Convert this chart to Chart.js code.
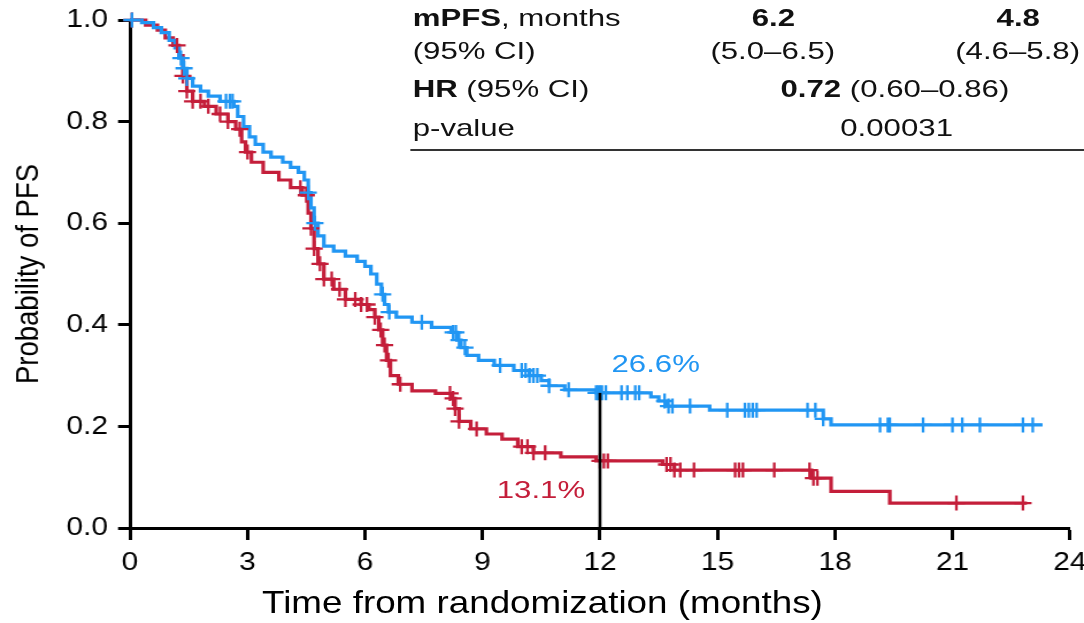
<!DOCTYPE html>
<html lang="en">
<head>
<meta charset="UTF-8">
<title>Probability of PFS</title>
<script src="https://cdn.jsdelivr.net/npm/chart.js"></script>
<style>
  body { margin: 0; background: #fff; overflow: hidden; }
  /* the source figure is stretched sideways, so the whole drawing is too */
  #wrap { position: absolute; left: 0; top: 0; width: 943px; height: 623px;
          transform: scaleX(1.1495); transform-origin: 0 0;
          font-family: "Liberation Sans", Arial, sans-serif; }
  #box { position: absolute; left: 0; top: 0; width: 943px; height: 623px; }
  .t { position: absolute; font-size: 24px; line-height: 24px; white-space: nowrap;
       color: #111; transform: scaleX(1.13); transform-origin: 0 0; z-index: 2; }
  .r { transform-origin: 100% 0; }
  #xtitle { position: absolute; left: 228px; top: 586px; font-size: 32px; line-height: 32px;
            white-space: nowrap; color: #000; z-index: 2; }
  #rule { position: absolute; left: 356.7px; top: 148.5px; width: 586.3px; height: 0;
          border-top: 2.5px solid #333; }
</style>
</head>
<body>
<div id="wrap">
  <div id="box"><canvas id="chart"></canvas></div>

  <div class="t" style="left:359.3px;top:5.7px"><b>mPFS</b>, months</div>
  <div class="t" style="left:359.3px;top:38.7px">(95% CI)</div>
  <div class="t" style="left:359.3px;top:76.7px"><b>HR</b> (95% CI)</div>
  <div class="t" style="left:359.3px;top:115.7px">p-value</div>
  <div class="t" style="left:654.2px;top:5.7px"><b>6.2</b></div>
  <div class="t" style="left:867.3px;top:5.7px"><b>4.8</b></div>
  <div class="t" style="left:617.7px;top:38.7px">(5.0–6.5)</div>
  <div class="t" style="left:830.8px;top:38.7px">(4.6–5.8)</div>
  <div class="t" style="left:678.6px;top:76.7px"><b>0.72</b> (0.60–0.86)</div>
  <div class="t" style="left:730.8px;top:115.7px">0.00031</div>
  <div id="rule"></div>

  <div class="t" id="blueLab"></div>
  <div class="t r" id="redLab"></div>
  <div id="xtitle">Time from randomization (months)</div>
</div>

<script>
// time (months) / survival after each drop
var blueT = [0, 0.3, 0.6, 0.8, 1.0, 1.15, 1.25, 1.35, 1.45, 1.6, 1.8, 2.0, 2.3, 2.65, 2.75, 2.9, 3.05, 3.2, 3.4, 3.6, 3.9, 4.1, 4.3, 4.45, 4.55, 4.62, 4.7, 4.8, 4.95, 5.2, 5.5, 5.8, 6.0, 6.15, 6.3, 6.42, 6.5, 6.6, 6.8, 7.2, 7.7, 8.2, 8.35, 8.45, 8.6, 8.9, 9.3, 9.8, 10.2, 10.5, 10.7, 11.1, 11.9, 13.3, 13.5, 13.7, 14.8, 17.7, 17.9, 23.3];
var blueS = [1.0, 0.995, 0.985, 0.975, 0.96, 0.945, 0.925, 0.905, 0.885, 0.87, 0.86, 0.85, 0.84, 0.83, 0.81, 0.79, 0.77, 0.755, 0.74, 0.73, 0.72, 0.71, 0.70, 0.685, 0.66, 0.63, 0.60, 0.575, 0.555, 0.545, 0.535, 0.525, 0.515, 0.50, 0.48, 0.46, 0.44, 0.425, 0.415, 0.405, 0.395, 0.385, 0.37, 0.355, 0.34, 0.33, 0.32, 0.31, 0.30, 0.29, 0.28, 0.272, 0.266, 0.258, 0.25, 0.24, 0.232, 0.215, 0.203, 0.203];

var redT = [0, 0.4, 0.7, 0.9, 1.1, 1.25, 1.35, 1.45, 1.6, 1.9, 2.2, 2.5, 2.7, 2.85, 2.95, 3.1, 3.4, 3.8, 4.1, 4.4, 4.55, 4.62, 4.7, 4.8, 4.95, 5.2, 5.5, 5.9, 6.1, 6.25, 6.35, 6.45, 6.55, 6.65, 6.85, 7.2, 7.8, 8.2, 8.3, 8.4, 8.7, 9.1, 9.5, 9.9, 10.3, 11.0, 11.9, 13.6, 13.9, 17.4, 17.9, 19.4, 22.9];
var redS = [1.0, 0.99, 0.98, 0.965, 0.95, 0.93, 0.89, 0.86, 0.84, 0.83, 0.815, 0.80, 0.785, 0.76, 0.74, 0.72, 0.70, 0.685, 0.67, 0.655, 0.62, 0.59, 0.55, 0.52, 0.49, 0.47, 0.45, 0.44, 0.43, 0.415, 0.39, 0.36, 0.33, 0.30, 0.283, 0.27, 0.265, 0.255, 0.235, 0.21, 0.195, 0.185, 0.175, 0.16, 0.148, 0.14, 0.132, 0.125, 0.114, 0.098, 0.072, 0.049, 0.049];

// censored patients (months)
var blueCensor = [0.05, 1.3, 1.38, 1.45, 2.45, 2.55, 2.62, 4.55, 4.72, 6.45, 6.62, 7.45, 8.25, 8.32, 8.4, 8.55, 9.45, 10.0, 10.1, 10.2, 10.3, 10.4, 10.7, 11.2, 11.9, 11.95, 12.0, 12.05, 12.15, 12.55, 12.7, 12.9, 13.0, 13.65, 13.75, 13.85, 14.3, 15.25, 15.7, 15.8, 15.9, 16.0, 17.3, 17.5, 17.7, 19.15, 19.35, 19.4, 20.25, 21.0, 21.25, 21.7, 22.8, 23.05];
var redCensor = [0.05, 1.2, 1.35, 1.45, 1.6, 1.8, 2.0, 2.3, 2.5, 2.8, 3.0, 4.35, 4.5, 4.62, 4.7, 4.85, 4.95, 5.15, 5.35, 5.5, 5.75, 5.9, 6.05, 6.25, 6.4, 6.5, 6.6, 6.9, 8.17, 8.25, 8.3, 8.4, 8.85, 10.0, 10.15, 10.3, 10.6, 12.0, 12.1, 12.2, 13.7, 13.8, 13.9, 14.05, 14.4, 15.45, 15.55, 15.65, 16.45, 17.35, 17.45, 17.55, 21.1, 22.8];

var landmarkMonth = 12;
var landmarkPct = ['26.6%', '13.1%'];

var blue = '#2196F3';
var red = '#C41E3A';

function survAt(T, S, t) {
    var v = S[0];
    for (var i = 0; i < T.length; i++) {
        if (T[i] <= t) v = S[i];
    }
    return v;
}
function curve(T, S) {
    return T.map(function(t, i) { return {x: t, y: S[i]}; });
}
function marks(C, T, S) {
    return C.map(function(t) { return {x: t, y: survAt(T, S, t)}; });
}

document.getElementById('blueLab').textContent = landmarkPct[0];
document.getElementById('blueLab').style.color = blue;
document.getElementById('redLab').textContent = landmarkPct[1];
document.getElementById('redLab').style.color = red;

// place the 12-month labels next to the landmark line
var landmarkLabels = {
    id: 'landmarkLabels',
    afterRender: function(chart) {
        var px = chart.scales.x.getPixelForValue(landmarkMonth);
        var yb = chart.scales.y.getPixelForValue(survAt(blueT, blueS, landmarkMonth));
        var yr = chart.scales.y.getPixelForValue(survAt(redT, redS, landmarkMonth));
        var b = document.getElementById('blueLab');
        var r = document.getElementById('redLab');
        b.style.left = (px + 10.5) + 'px';
        b.style.top = (yb - 41) + 'px';
        r.style.right = (943 - px + 13) + 'px';
        r.style.top = (yr + 17.5) + 'px';
    }
};

var ctx = document.getElementById('chart').getContext('2d');
var chart = new Chart(ctx, {
    type: 'line',
    data: {
        datasets: [
            {
                label: 'landmark',
                data: [{x: landmarkMonth, y: 0}, {x: landmarkMonth, y: survAt(blueT, blueS, landmarkMonth)}],
                borderColor: '#000',
                borderWidth: 2.6,
                pointRadius: 0
            },
            {
                label: 'censor blue',
                data: marks(blueCensor, blueT, blueS),
                showLine: false,
                pointStyle: 'cross',
                pointRadius: 7.5,
                borderColor: blue,
                borderWidth: 2.3
            },
            {
                label: 'censor red',
                data: marks(redCensor, redT, redS),
                showLine: false,
                pointStyle: 'cross',
                pointRadius: 7.5,
                borderColor: red,
                borderWidth: 2.3
            },
            {
                label: 'blue arm',
                data: curve(blueT, blueS),
                stepped: true,
                borderColor: blue,
                borderWidth: 3.2,
                pointRadius: 0
            },
            {
                label: 'red arm',
                data: curve(redT, redS),
                stepped: true,
                borderColor: red,
                borderWidth: 3.2,
                pointRadius: 0
            }
        ]
    },
    options: {
        responsive: true,
        maintainAspectRatio: false,
        animation: false,
        events: [],
        clip: false,
        layout: { padding: { top: 20, right: 0, bottom: 0, left: 0 } },
        plugins: { legend: { display: false }, tooltip: { enabled: false } },
        scales: {
            x: {
                type: 'linear',
                min: 0,
                max: 24,
                ticks: {
                    stepSize: 3,
                    color: '#000',
                    padding: 7,
                    font: { family: 'Liberation Sans', size: 26 }
                },
                grid: { drawOnChartArea: false, tickLength: 12, tickWidth: 3, tickColor: '#000' },
                border: { color: '#000', width: 3 },
                afterFit: function(s) {
                    s.height = 95;
                    s.paddingLeft = 0;
                    s.paddingRight = 12.2;
                }
            },
            y: {
                min: 0,
                max: 1,
                ticks: {
                    stepSize: 0.2,
                    color: '#000',
                    padding: 8.7,
                    font: { family: 'Liberation Sans', size: 26 },
                    callback: function(v) { return v.toFixed(1); }
                },
                grid: { drawOnChartArea: false, tickLength: 10.4, tickWidth: 3, tickColor: '#000' },
                border: { color: '#000', width: 3 },
                title: {
                    display: true,
                    text: 'Probability of PFS',
                    color: '#000',
                    padding: { top: 8.7, bottom: 0 },
                    font: { family: 'Liberation Sans', size: 27.5 }
                },
                afterFit: function(s) {
                    s.width = 113.1;
                    s.paddingTop = 0;
                    s.paddingBottom = 0;
                }
            }
        }
    },
    plugins: [landmarkLabels]
});
</script>
</body>
</html>
